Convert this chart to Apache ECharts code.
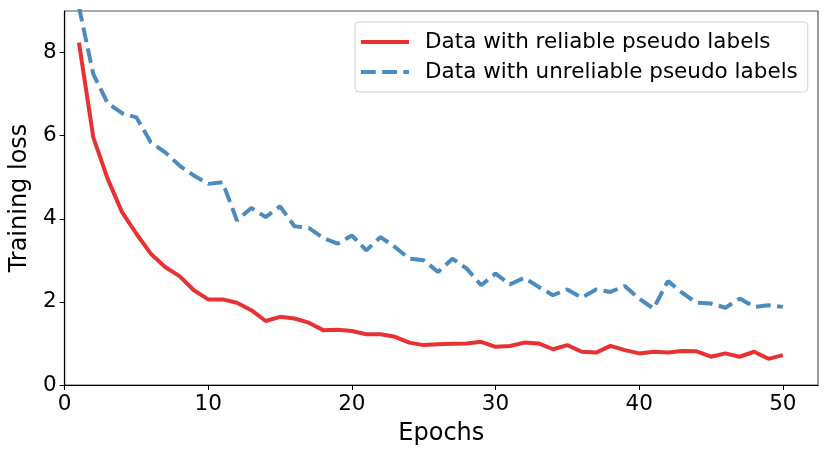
<!DOCTYPE html>
<html>
<head>
<meta charset="utf-8">
<script src="https://cdn.jsdelivr.net/npm/echarts@6/dist/echarts.min.js"></script>
<style>
  html, body { margin: 0; padding: 0; background: #fff; }
  #chart { width: 831px; height: 460px; }
</style>
</head>
<body>
<div id="chart"></div>
<script>
// epochs 1..50
var epochs = [];
for (var i = 1; i <= 50; i++) epochs.push(i);

// loss
var reliable = [8.24, 5.96, 4.96, 4.16, 3.64, 3.16, 2.84, 2.62, 2.28, 2.06,
                2.06, 1.98, 1.80, 1.54, 1.64, 1.60, 1.50, 1.32, 1.33, 1.30,
                1.22, 1.22, 1.16, 1.02, 0.96, 0.98, 0.99, 1.00, 1.04, 0.92,
                0.94, 1.02, 1.00, 0.86, 0.96, 0.80, 0.78, 0.94, 0.84, 0.76,
                0.80, 0.78, 0.82, 0.81, 0.68, 0.76, 0.68, 0.80, 0.63, 0.72];
var unreliable = [9.10, 7.48, 6.78, 6.54, 6.44, 5.84, 5.60, 5.28, 5.04, 4.84,
                  4.88, 3.96, 4.26, 4.04, 4.30, 3.82, 3.78, 3.54, 3.40, 3.60,
                  3.24, 3.56, 3.32, 3.04, 3.00, 2.72, 3.04, 2.80, 2.40, 2.68,
                  2.42, 2.58, 2.36, 2.16, 2.30, 2.10, 2.30, 2.24, 2.38, 2.08,
                  1.84, 2.50, 2.22, 1.98, 1.96, 1.86, 2.08, 1.88, 1.92, 1.88];

var xTicks = [0, 10, 20, 30, 40, 50];
var yTicks = [0, 2, 4, 6, 8];

function pairs(ys) {
  return epochs.map(function (e, k) { return [e, ys[k]]; });
}

var chart = echarts.init(document.getElementById('chart'));
var font = 'DejaVu Sans';

var option = {
  animation: false,
  textStyle: { fontFamily: font },
  grid: {
    left: 63, right: 13, top: 11, bottom: 75,
    show: true, borderColor: '#555', borderWidth: 1.2
  },
  legend: {
    orient: 'vertical',
    left: 355, top: 22,
    padding: [9, 10, 9, 6],
    itemWidth: 48, itemHeight: 4, itemGap: 8,
    backgroundColor: '#fff',
    borderColor: '#d0d0d0', borderWidth: 1, borderRadius: 4,
    textStyle: { fontFamily: font, fontSize: 21.5, color: '#000', padding: [0, 0, 0, 11] },
    data: [
      { name: 'Data with reliable pseudo labels', icon: 'path://M0,0H48V4H0Z' },
      { name: 'Data with unreliable pseudo labels',
        icon: 'path://M0,0H14.8V4H0Z M21.2,0H36V4H21.2Z M42.4,0H48V4H42.4Z' }
    ]
  },
  xAxis: {
    type: 'value',
    min: 0, max: 52.45, interval: 10,
    name: 'Epochs',
    nameLocation: 'middle', nameGap: 37,
    nameTextStyle: { fontFamily: font, fontSize: 24, color: '#000' },
    axisLine: { show: true, lineStyle: { color: '#000', width: 1.2 } },
    axisTick: { show: true, length: 5, customValues: xTicks, lineStyle: { color: '#000' } },
    axisLabel: {
      fontFamily: font, fontSize: 21.5, color: '#000', margin: 8,
      customValues: xTicks
    },
    splitLine: { show: false }
  },
  yAxis: {
    type: 'value',
    min: 0, max: 9, interval: 2,
    name: 'Training loss',
    nameLocation: 'middle', nameGap: 25,
    nameTextStyle: { fontFamily: font, fontSize: 24, color: '#000' },
    axisLine: { show: true, lineStyle: { color: '#000', width: 1.2 } },
    axisTick: { show: true, length: 5, customValues: yTicks, lineStyle: { color: '#000' } },
    axisLabel: {
      fontFamily: font, fontSize: 21.5, color: '#000', margin: 8,
      customValues: yTicks
    },
    splitLine: { show: false }
  },
  series: [{
    name: 'Data with reliable pseudo labels',
    type: 'line',
    symbol: 'none',
    clip: true,
    itemStyle: { color: '#e73133' },
    lineStyle: { color: '#e73133', width: 4 },
    data: pairs(reliable)
  }, {
    name: 'Data with unreliable pseudo labels',
    type: 'line',
    symbol: 'none',
    clip: true,
    itemStyle: { color: '#4b8bbf' },
    lineStyle: { color: '#4b8bbf', width: 4, type: [14.8, 6.4] },
    data: pairs(unreliable)
  }]
};

chart.setOption(option);
</script>
</body>
</html>
